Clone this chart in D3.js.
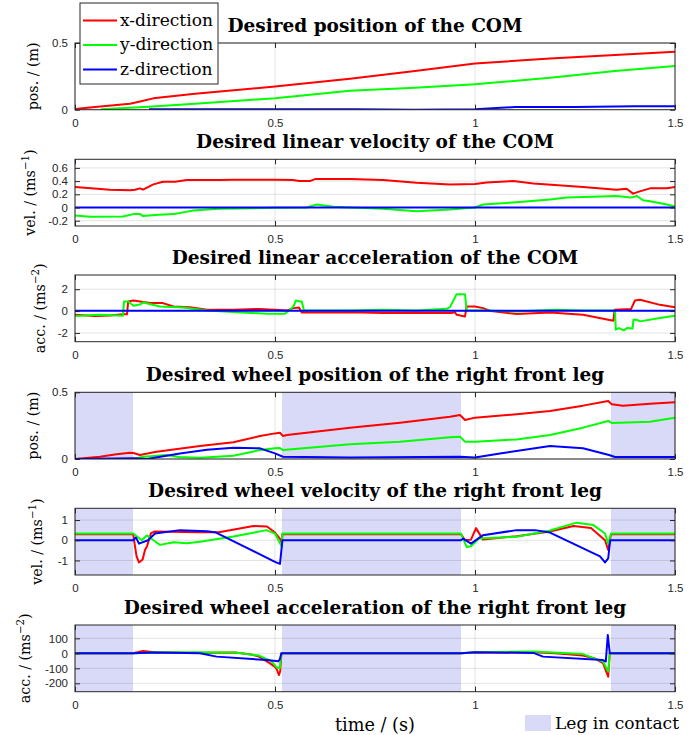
<!DOCTYPE html>
<html><head><meta charset="utf-8">
<script src="https://cdn.jsdelivr.net/npm/d3@7"></script>
<style>body{margin:0;background:#fff}svg{display:block}</style>
</head><body><svg id="c" width="697" height="735"></svg>
<script>
// ---------------- DATA ----------------
const timeDomain = [0, 1.5];
const timeTicks = [0, 0.5, 1, 1.5];
const seriesNames = ["x-direction", "y-direction", "z-direction"];
const contactPhases = [[0, 0.145], [0.5175, 0.965], [1.34, 1.5]];
const panelTitles = [
  "Desired position of the COM",
  "Desired linear velocity of the COM",
  "Desired linear acceleration of the COM",
  "Desired wheel position of the right front leg",
  "Desired wheel velocity of the right front leg",
  "Desired wheel acceleration of the right front leg"
];
const yLabelParts = [
  ["pos. / (m)", "", ""],
  ["vel. / (ms", "\u22121", ")"],
  ["acc. / (ms", "\u22122", ")"],
  ["pos. / (m)", "", ""],
  ["vel. / (ms", "\u22121", ")"],
  ["acc. / (ms", "\u22122", ")"]
];
const yDomains = [[0, 0.5], [-0.28, 0.73], [-2.8, 3.3], [0, 0.5], [-1.72, 1.58], [-256, 189]];
const yTickValues = [[0, 0.5], [-0.2, 0, 0.2, 0.4, 0.6], [-2, 0, 2], [0, 0.5], [-1, 0, 1], [-200, -100, 0, 100]];

// Panel 1: COM position
const comPosX = [[0,0.005],[0.05,0.02],[0.1375,0.045],[0.16,0.06],[0.196,0.085],[0.3,0.12],[0.5,0.174],[0.6875,0.232],[0.85,0.29],[1.0,0.346],[1.1875,0.384],[1.35,0.41],[1.5,0.434]];
const comPosY = [[0.065,0.003],[0.185,0.022],[0.3,0.045],[0.5,0.086],[0.6875,0.142],[0.85,0.165],[1.0,0.19],[1.1875,0.24],[1.35,0.29],[1.5,0.328]];
const comPosZ = [[0.185,0.004],[0.5,0.004],[0.7,0.004],[0.85,0.0],[1.0,0.004],[1.1,0.02],[1.25,0.02],[1.4,0.026],[1.5,0.026]];

// Panel 2: COM velocity
const comVelX = [[0,0.31],[0.04,0.29],[0.0875,0.27],[0.1375,0.26],[0.15,0.27],[0.1625,0.29],[0.17,0.27],[0.196,0.35],[0.22,0.39],[0.25,0.39],[0.28,0.415],[0.36,0.415],[0.396,0.42],[0.5,0.42],[0.545,0.415],[0.56,0.40],[0.5875,0.40],[0.60,0.43],[0.6875,0.43],[0.77,0.415],[0.854,0.375],[0.9375,0.35],[1.0,0.355],[1.029,0.38],[1.096,0.40],[1.146,0.365],[1.27,0.31],[1.354,0.27],[1.379,0.285],[1.395,0.21],[1.41,0.24],[1.4375,0.29],[1.48,0.29],[1.5,0.31]];
const comVelY = [[0,-0.12],[0.0375,-0.14],[0.12,-0.135],[0.146,-0.10],[0.1625,-0.10],[0.17,-0.13],[0.2,-0.115],[0.246,-0.10],[0.296,-0.045],[0.36,-0.02],[0.5,-0.005],[0.58,0.0],[0.604,0.045],[0.646,0.01],[0.6875,0],[0.77,-0.02],[0.854,-0.055],[0.9375,-0.03],[1.0,0],[1.02,0.045],[1.104,0.08],[1.1875,0.12],[1.229,0.15],[1.27,0.16],[1.354,0.175],[1.39,0.15],[1.405,0.175],[1.42,0.11],[1.4375,0.095],[1.48,0.045],[1.5,0.015]];
const comVelZ = [[0,0],[1.5,0]];

// Panel 3: COM acceleration
const comAccX = [[0,-0.34],[0.05,-0.45],[0.0875,-0.4],[0.12,-0.3],[0.13,-0.3],[0.133,0.87],[0.146,0.96],[0.1875,0.73],[0.22,0.73],[0.246,0.42],[0.2875,0.36],[0.33,0.12],[0.396,0.12],[0.46,0.2],[0.5,0.12],[0.53,0.06],[0.546,0.27],[0.56,0.33],[0.567,-0.12],[0.6,-0.12],[0.6875,-0.1],[0.77,-0.17],[0.854,-0.18],[0.94,-0.18],[0.95,-0.1],[0.954,-0.34],[0.975,-0.49],[0.979,0.42],[1.0,0.42],[1.02,0.27],[1.04,0],[1.104,-0.27],[1.1875,-0.12],[1.27,-0.33],[1.346,-0.88],[1.349,0.12],[1.39,0.18],[1.40,0.97],[1.4125,1.03],[1.4625,0.57],[1.5,0.36]];
const comAccY = [[0,-0.45],[0.0625,-0.33],[0.12,-0.42],[0.1225,0.87],[0.133,0.87],[0.146,0.48],[0.1625,0.6],[0.171,0.79],[0.2125,0.42],[0.27,0.33],[0.33,0.06],[0.396,-0.09],[0.479,-0.24],[0.525,-0.24],[0.535,0.06],[0.546,0.42],[0.5525,0.97],[0.5625,0.87],[0.567,0.87],[0.5725,0.06],[0.6875,0.06],[0.77,0.12],[0.854,0.06],[0.929,0.21],[0.9375,0.36],[0.954,1.54],[0.975,1.54],[0.979,0.06],[1.02,0.06],[1.104,-0.03],[1.2,0.12],[1.27,0.06],[1.35,0.06],[1.352,-1.7],[1.36,-1.55],[1.372,-1.76],[1.38,-1.55],[1.394,-1.6],[1.396,-0.79],[1.404,-0.79],[1.4125,-0.94],[1.4625,-0.64],[1.5,-0.42]];
const comAccZ = [[0,0.02],[1.5,0.02]];

// Panel 4: wheel position
const wheelPosX = [[0,0],[0.0625,0.017],[0.104,0.035],[0.1375,0.047],[0.146,0.045],[0.1625,0.03],[0.1875,0.045],[0.204,0.055],[0.3125,0.097],[0.396,0.125],[0.4625,0.172],[0.5,0.192],[0.5125,0.197],[0.52,0.172],[0.53,0.18],[0.6875,0.235],[0.8125,0.272],[0.9375,0.317],[0.9625,0.33],[0.975,0.292],[1.0,0.31],[1.104,0.335],[1.1875,0.36],[1.27,0.40],[1.333,0.435],[1.342,0.41],[1.37,0.40],[1.4375,0.415],[1.5,0.425]];
const wheelPosY = [[0,0],[0.146,0],[0.171,0.017],[0.229,0.03],[0.26,0.015],[0.3125,0.01],[0.396,0.025],[0.4625,0.067],[0.5,0.08],[0.5125,0.082],[0.52,0.067],[0.6875,0.11],[0.8125,0.13],[0.9375,0.163],[0.9625,0.167],[0.975,0.13],[1.0,0.13],[1.104,0.147],[1.1875,0.18],[1.27,0.235],[1.333,0.285],[1.342,0.27],[1.4375,0.28],[1.5,0.31]];
const wheelPosZ = [[0,0],[0.146,0.005],[0.18,0],[0.2625,0.042],[0.33,0.07],[0.396,0.085],[0.4625,0.08],[0.5,0.042],[0.52,0.017],[0.6875,0.012],[0.9625,0.017],[1.0,0.012],[1.0625,0.042],[1.1875,0.097],[1.27,0.08],[1.335,0.03],[1.35,0.015],[1.5,0.015]];

// Panel 5: wheel velocity
const wheelVelX = [[0,0.3],[0.1455,0.3],[0.15,-0.3],[0.154,-0.8],[0.16,-1.1],[0.169,-0.95],[0.175,-0.48],[0.18,-0.3],[0.19,0.35],[0.2,0.43],[0.31,0.4],[0.36,0.4],[0.446,0.7],[0.48,0.68],[0.5,0.38],[0.515,0.0],[0.517,-0.2],[0.5185,0.3],[0.965,0.3],[0.975,0.0],[0.99,0.03],[1.0025,0.6],[1.02,0.03],[1.104,0.2],[1.1875,0.43],[1.246,0.7],[1.29,0.6],[1.325,0.0],[1.333,-0.48],[1.34,0.3],[1.5,0.3]];
const wheelVelY = [[0,0.33],[0.146,0.33],[0.154,0.2],[0.167,0.0],[0.18,0.25],[0.196,0.0],[0.2125,-0.23],[0.246,-0.1],[0.28,-0.15],[0.3125,-0.07],[0.396,0.18],[0.479,0.5],[0.5,0.33],[0.517,-0.33],[0.5185,0.33],[0.965,0.33],[0.979,-0.33],[0.99,-0.3],[1.01,0.08],[1.104,0.17],[1.1875,0.48],[1.254,0.87],[1.296,0.75],[1.325,0.33],[1.333,-0.17],[1.34,0.33],[1.5,0.33]];
const wheelVelZ = [[0,0],[0.145,0],[0.1525,0.13],[0.16,-0.17],[0.1825,0],[0.2,0.33],[0.2625,0.5],[0.33,0.45],[0.35,0.4],[0.5,-1.07],[0.5125,-1.17],[0.5185,0],[0.965,0],[0.97,0.08],[0.99,-0.17],[1.02,0.25],[1.104,0.5],[1.15,0.5],[1.1875,0.38],[1.3125,-0.8],[1.325,-1.1],[1.333,-0.9],[1.338,0],[1.5,0]];

// Panel 6: wheel acceleration
const wheelAccX = [[0,0],[0.145,0],[0.17,15],[0.2,8],[0.3,2],[0.4,5],[0.44,-8],[0.46,-22],[0.4875,-67],[0.5,-90],[0.505,-110],[0.51,-145],[0.513,-120],[0.516,0],[0.965,0],[1.0,5],[1.146,7],[1.2,0],[1.27,-15],[1.3,-35],[1.32,-65],[1.333,-156],[1.337,0],[1.5,0]];
const wheelAccY = [[0,0],[0.145,0],[0.2,5],[0.3,8],[0.4,5],[0.46,-15],[0.49,-50],[0.505,-95],[0.512,-100],[0.516,0],[0.965,0],[1.0,8],[1.146,12],[1.27,-5],[1.32,-55],[1.333,-122],[1.337,0],[1.5,0]];
const wheelAccZ = [[0,0],[0.145,0],[0.2,5],[0.3125,0],[0.354,-22],[0.479,-45],[0.508,-53],[0.512,-40],[0.516,0],[0.965,0],[1.0,7],[1.146,3],[1.17,-22],[1.32,-45],[1.327,-55],[1.332,122],[1.337,0],[1.5,0]];

const panelSeries = [
  [comPosX, comPosY, comPosZ],
  [comVelX, comVelY, comVelZ],
  [comAccX, comAccY, comAccZ],
  [wheelPosX, wheelPosY, wheelPosZ],
  [wheelVelX, wheelVelY, wheelVelZ],
  [wheelAccX, wheelAccY, wheelAccZ]
];
const panelShaded = [false, false, false, true, true, true];
const contactLabel = "Leg in contact";
const xLabel = "time / (s)";

// ---------------- LAYOUT / STYLE ----------------
const seriesColors = ["#ff0000", "#00ff00", "#0000ff"];
const shadeColor = "#d9d9f8";
const axisColor = "#262626";
const serif = "'DejaVu Serif', serif";
const sans = "'Liberation Sans', Arial, sans-serif";
const L = 75, R = 675, PH = 66.7;
const tops = [43, 159.3, 275, 392.3, 508.3, 625];
const yLabelBase = [37.5, 35, 45, 38, 42, 30];

const svg = d3.select("#c");
const x = d3.scaleLinear().domain(timeDomain).range([L, R]);
const fmt = d => String(d);

function fitFont(sel, base, target) {
  sel.attr("font-size", base);
  const w = sel.node().getComputedTextLength();
  return base * target / w;
}

const probe = svg.append("text").attr("font-family", serif).attr("font-weight", "bold").text(panelTitles[0]);
const titleSize = fitFont(probe, 16, 295);
probe.attr("font-weight", null).text(seriesNames[0]);
const legendSize = fitFont(probe, 16, 93);
probe.text("pos. / (m)");
const ylabSize = fitFont(probe, 16, 68);
probe.text(xLabel);
const xlabSize = fitFont(probe, 16, 80);
probe.remove();

panelSeries.forEach((series, i) => {
  const top = tops[i], bot = top + PH;
  const y = d3.scaleLinear().domain(yDomains[i]).range([bot, top]);
  const g = svg.append("g");
  const cid = "clip" + i;
  svg.append("clipPath").attr("id", cid).append("rect")
    .attr("x", L).attr("y", top).attr("width", R - L).attr("height", PH);

  g.append("rect").attr("x", L).attr("y", top).attr("width", R - L).attr("height", PH).attr("fill", "#fff");
  if (panelShaded[i]) {
    g.selectAll("rect.shade").data(contactPhases).join("rect").attr("class", "shade")
      .attr("x", d => x(d[0])).attr("width", d => x(d[1]) - x(d[0]))
      .attr("y", top).attr("height", PH).attr("fill", shadeColor);
  }
  g.selectAll("line.gx").data(timeTicks).join("line").attr("class", "gx")
    .attr("x1", d => x(d)).attr("x2", d => x(d)).attr("y1", top).attr("y2", bot)
    .attr("stroke", axisColor).attr("stroke-opacity", 0.13).attr("stroke-width", 1);
  g.selectAll("line.gy").data(yTickValues[i]).join("line").attr("class", "gy")
    .attr("y1", d => y(d)).attr("y2", d => y(d)).attr("x1", L).attr("x2", R)
    .attr("stroke", axisColor).attr("stroke-opacity", 0.13).attr("stroke-width", 1);

  const line = d3.line().x(d => x(d[0])).y(d => y(d[1]));
  const lg = g.append("g").attr("clip-path", `url(#${cid})`);
  series.forEach((s, k) => {
    lg.append("path").datum(s).attr("d", line).attr("fill", "none")
      .attr("stroke", seriesColors[k]).attr("stroke-width", 2).attr("stroke-linejoin", "round");
  });

  const ax = (gen, tr, labels) => {
    const a = g.append("g").attr("transform", tr).call(gen);
    a.select(".domain").remove();
    a.selectAll(".tick line").attr("stroke", axisColor);
    a.selectAll("text").attr("fill", axisColor).attr("font-family", sans).attr("font-size", 11.5);
    if (!labels) a.selectAll("text").remove();
    return a;
  };
  ax(d3.axisBottom(x).tickValues(timeTicks).tickSizeInner(-5).tickSizeOuter(0).tickPadding(9).tickFormat(fmt), `translate(0,${bot})`, true);
  ax(d3.axisTop(x).tickValues(timeTicks).tickSizeInner(-5).tickSizeOuter(0), `translate(0,${top})`, false);
  ax(d3.axisLeft(y).tickValues(yTickValues[i]).tickSizeInner(-5).tickSizeOuter(0).tickPadding(7).tickFormat(fmt), `translate(${L},0)`, true);
  ax(d3.axisRight(y).tickValues(yTickValues[i]).tickSizeInner(-5).tickSizeOuter(0), `translate(${R},0)`, false);

  g.append("rect").attr("x", L).attr("y", top).attr("width", R - L).attr("height", PH)
    .attr("fill", "none").attr("stroke", axisColor).attr("stroke-width", 1);

  svg.append("text").attr("x", (L + R) / 2).attr("y", top - 11).attr("text-anchor", "middle")
    .attr("font-family", serif).attr("font-weight", "bold").attr("font-size", titleSize)
    .attr("fill", "#000").text(panelTitles[i]);

  const [a, sup, b] = yLabelParts[i];
  const t = svg.append("text").attr("transform", `translate(${yLabelBase[i]},${(top + bot) / 2}) rotate(-90)`)
    .attr("text-anchor", "middle").attr("font-family", serif).attr("font-size", ylabSize).attr("fill", "#000");
  t.append("tspan").text(a);
  if (sup) {
    t.append("tspan").attr("font-size", ylabSize * 0.72).attr("dy", -ylabSize * 0.45).text(sup);
    t.append("tspan").attr("dy", ylabSize * 0.45).text(b);
  }
});

const leg = svg.append("g");
leg.append("rect").attr("x", 80).attr("y", 3).attr("width", 138).attr("height", 81)
  .attr("fill", "#fff").attr("stroke", axisColor).attr("stroke-width", 1);
const legY = [20.5, 45, 69.5];
seriesNames.forEach((n, k) => {
  leg.append("line").attr("x1", 83).attr("x2", 117).attr("y1", legY[k]).attr("y2", legY[k])
    .attr("stroke", seriesColors[k]).attr("stroke-width", 2);
  leg.append("text").attr("x", 120).attr("y", legY[k] + 5).attr("font-family", serif)
    .attr("font-size", legendSize).attr("fill", "#000").text(n);
});

svg.append("text").attr("x", 375).attr("y", 731).attr("text-anchor", "middle")
  .attr("font-family", serif).attr("font-size", xlabSize).attr("fill", "#000").text(xLabel);

svg.append("rect").attr("x", 525).attr("y", 715).attr("width", 26).attr("height", 16).attr("fill", shadeColor);
svg.append("text").attr("x", 555).attr("y", 729).attr("font-family", serif).attr("font-size", legendSize)
  .attr("fill", "#000").text(contactLabel);
</script></body></html>
